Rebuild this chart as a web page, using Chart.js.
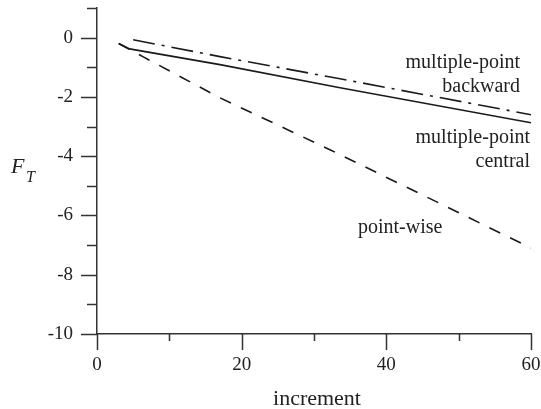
<!DOCTYPE html>
<html>
<head>
<meta charset="utf-8">
<script src="https://cdn.jsdelivr.net/npm/chart.js@4.4.1/dist/chart.umd.min.js"></script>
<style>
    html, body { margin: 0; padding: 0; background: #fff; }
    #wrap { width: 541px; height: 409px; position: relative; }
</style>
</head>
<body>
<div id="wrap"><canvas id="chart"></canvas></div>
<script>
// Series
const centralX = [3, 4.5, 17, 33.6, 60];
const centralY = [-0.2, -0.38, -0.91, -1.69, -2.87];

const backwardX = [5, 17, 33.6, 60];
const backwardY = [-0.07, -0.64, -1.39, -2.6];

const pointwiseX = [3, 6.4, 17, 32.2, 60];
const pointwiseY = [-0.2, -0.65, -2.03, -3.78, -7.1];

// Axis ticks
const xMajorTicks = [0, 20, 40, 60];
const xMinorTicks = [10, 30, 50];
const yMajorTicks = [0, -2, -4, -6, -8, -10];
const yMinorTicks = [1, -1, -3, -5, -7, -9];

const FONT = 'Liberation Serif, Times New Roman, serif';
const INK = '#222';

function toPoints(xs, ys) {
    return xs.map((x, i) => ({ x: x, y: ys[i] }));
}

// Tick marks of two lengths, drawn through the chart's own scales
const tickMarks = {
    id: 'tickMarks',
    afterDraw(chart) {
        const ctx = chart.ctx;
        const xs = chart.scales.x;
        const ys = chart.scales.y;
        const area = chart.chartArea;
        ctx.save();
        ctx.strokeStyle = '#333';
        ctx.lineWidth = 1.5;
        ctx.beginPath();
        xMajorTicks.forEach(v => {
            const px = Math.round(xs.getPixelForValue(v)) + 0.5;
            ctx.moveTo(px, area.bottom); ctx.lineTo(px, area.bottom + 16);
        });
        xMinorTicks.forEach(v => {
            const px = Math.round(xs.getPixelForValue(v)) + 0.5;
            ctx.moveTo(px, area.bottom); ctx.lineTo(px, area.bottom + 7);
        });
        yMajorTicks.forEach(v => {
            const py = Math.round(ys.getPixelForValue(v)) + 0.5;
            ctx.moveTo(area.left, py); ctx.lineTo(area.left - 16, py);
        });
        yMinorTicks.forEach(v => {
            const py = Math.round(ys.getPixelForValue(v)) + 0.5;
            ctx.moveTo(area.left, py); ctx.lineTo(area.left - 10, py);
        });
        ctx.stroke();
        ctx.restore();
    }
};

// Axis titles and curve labels
const textLabels = {
    id: 'textLabels',
    afterDraw(chart) {
        const ctx = chart.ctx;
        ctx.save();
        ctx.fillStyle = INK;
        ctx.textBaseline = 'alphabetic';

        ctx.font = 'italic 22px ' + FONT;
        ctx.textAlign = 'left';
        ctx.fillText('F', 11, 173);
        ctx.font = 'italic 16px ' + FONT;
        ctx.fillText('T', 26, 182);

        ctx.font = '22px ' + FONT;
        ctx.textAlign = 'center';
        ctx.fillText('increment', 317, 405);

        ctx.font = '20px ' + FONT;
        ctx.textAlign = 'right';
        ctx.fillText('multiple-point', 520, 68);
        ctx.fillText('backward', 520, 92);
        ctx.fillText('multiple-point', 530, 143);
        ctx.fillText('central', 530, 167);
        ctx.textAlign = 'left';
        ctx.fillText('point-wise', 358, 233);
        ctx.restore();
    }
};

new Chart(document.getElementById('chart').getContext('2d'), {
    type: 'line',
    data: {
        datasets: [
            {
                label: 'multiple-point central',
                data: toPoints(centralX, centralY),
                borderColor: '#1a1a1a',
                borderWidth: 1.6,
                pointRadius: 0,
                fill: false
            },
            {
                label: 'multiple-point backward',
                data: toPoints(backwardX, backwardY),
                borderColor: '#1a1a1a',
                borderWidth: 1.6,
                borderDash: [22, 7, 3, 7],
                pointRadius: 0,
                fill: false
            },
            {
                label: 'point-wise',
                data: toPoints(pointwiseX, pointwiseY),
                borderColor: '#1a1a1a',
                borderWidth: 1.6,
                borderDash: [12, 11],
                pointRadius: 0,
                fill: false
            }
        ]
    },
    options: {
        responsive: true,
        maintainAspectRatio: false,
        animation: false,
        layout: {
            padding: { top: 8, right: 10, left: 0, bottom: 0 }
        },
        plugins: {
            legend: { display: false },
            tooltip: { enabled: false }
        },
        scales: {
            x: {
                type: 'linear',
                min: 0,
                max: 60,
                afterFit: s => { s.height = 75; s.paddingLeft = 0; s.paddingRight = 0; },
                afterBuildTicks: s => { s.ticks = xMajorTicks.map(v => ({ value: v })); },
                border: { display: true, color: '#333', width: 1.5 },
                grid: { display: true, drawOnChartArea: false, drawTicks: true, tickLength: 16, color: 'rgba(0,0,0,0)' },
                ticks: {
                    color: INK,
                    font: { family: FONT, size: 19 },
                    padding: 4,
                    maxRotation: 0
                }
            },
            y: {
                type: 'linear',
                min: -10,
                max: 1,
                afterFit: s => { s.width = 97; s.paddingTop = 0; s.paddingBottom = 0; },
                afterBuildTicks: s => { s.ticks = yMajorTicks.map(v => ({ value: v })); },
                border: { display: true, color: '#333', width: 1.5 },
                grid: { display: true, drawOnChartArea: false, drawTicks: true, tickLength: 16, color: 'rgba(0,0,0,0)' },
                ticks: {
                    color: INK,
                    font: { family: FONT, size: 19 },
                    padding: 8
                }
            }
        }
    },
    plugins: [tickMarks, textLabels]
});
</script>
</body>
</html>
